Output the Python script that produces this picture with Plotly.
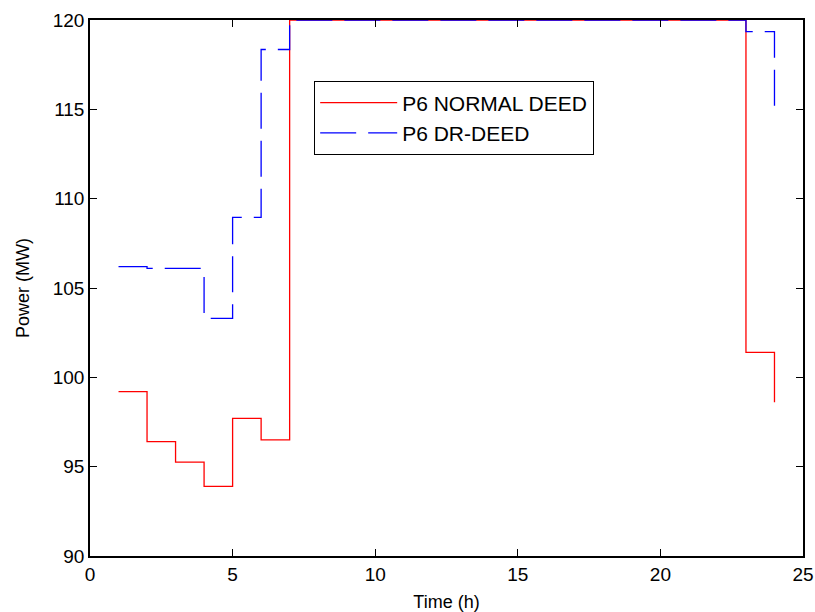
import plotly.graph_objects as go

hours = list(range(1, 25))
p6_normal = [99.2, 96.4, 95.25, 93.9, 97.7, 96.5] + [120.0] * 16 + [101.4, 98.6]
p6_dr = [106.2, 106.1, 106.1, 103.3, 108.95, 118.35] + [120.0] * 16 + [119.35, 114.65]

x_ticks = [0, 5, 10, 15, 20, 25]
y_ticks = [90, 95, 100, 105, 110, 115, 120]

fig = go.Figure()
fig.add_trace(go.Scatter(x=hours, y=p6_normal, mode="lines", line_shape="hv",
                         name="P6 NORMAL DEED", line=dict(color="#ff0000", width=1.3)))
fig.add_trace(go.Scatter(x=hours, y=p6_dr, mode="lines", line_shape="hv",
                         name="P6 DR-DEED", line=dict(color="#0000ff", width=1.3, dash="36px,12px")))

font = "Liberation Sans, Arial, Helvetica, sans-serif"
fig.update_layout(
    width=815, height=612,
    margin=dict(l=90, r=12, t=20, b=56, autoexpand=False),
    paper_bgcolor="white", plot_bgcolor="white",
    font=dict(family=font, size=19, color="black"),
    showlegend=True,
    legend=dict(x=0.314, y=0.886, xanchor="left", yanchor="top",
                bordercolor="black", borderwidth=1.3, bgcolor="white",
                font=dict(size=21, family=font), tracegroupgap=0,
                itemwidth=77),
    xaxis=dict(range=[0, 25], tickvals=x_ticks, ticks="inside",
               ticklen=7, tickcolor="black", showline=True, linecolor="black",
               linewidth=1.5, mirror="ticks", showgrid=False, zeroline=False,
               automargin=False,
               title=dict(text="Time (h)", standoff=13, font=dict(size=18))),
    yaxis=dict(range=[90, 120], tickvals=y_ticks, ticks="inside",
               ticklen=7, tickcolor="black", showline=True, linecolor="black",
               linewidth=1.5, mirror="ticks", showgrid=False, zeroline=False,
               automargin=False,
               title=dict(text="Power (MW)", standoff=18, font=dict(size=18))),
)

fig.write_html("out.html", config={"displayModeBar": False},
               post_script="document.body.style.margin='0';document.body.style.overflow='hidden';")
